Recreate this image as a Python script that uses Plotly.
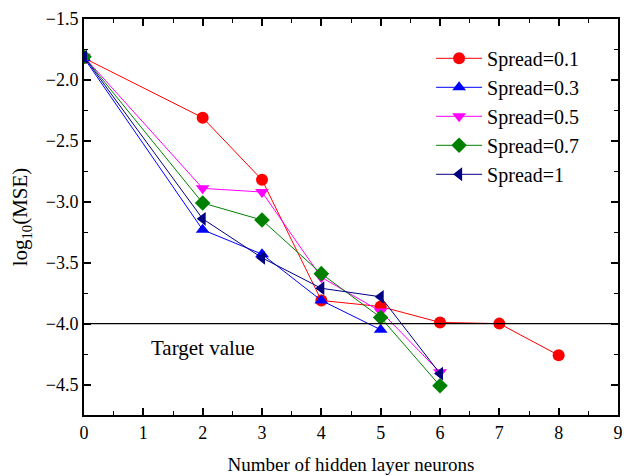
import plotly.graph_objects as go

x_all = [0, 2, 3, 4, 5, 6, 7, 8]
s01 = [-1.82, -2.31, -2.82, -3.81, -3.86, -3.99, -4.00, -4.26]
x_s03 = [0, 2, 3, 4, 5]
s03 = [-1.82, -3.23, -3.43, -3.81, -4.05]
x_s05 = [0, 2, 3, 4, 5, 6]
s05 = [-1.81, -2.89, -2.92, -3.62, -3.90, -4.40]
x_s07 = [0, 2, 3, 4, 5, 6]
s07 = [-1.81, -3.01, -3.15, -3.59, -3.95, -4.51]
x_s1 = [0, 2, 3, 4, 5, 6]
s1 = [-1.81, -3.14, -3.46, -3.71, -3.78, -4.41]
target = -4.0

series = [
    ("Spread=0.1", x_all, s01, "#ff0000", "circle"),
    ("Spread=0.3", x_s03, s03, "#0000ff", "triangle-up"),
    ("Spread=0.5", x_s05, s05, "#ff00ff", "triangle-down"),
    ("Spread=0.7", x_s07, s07, "#008000", "diamond"),
    ("Spread=1", x_s1, s1, "#000080", "triangle-left"),
]

SERIF = "Liberation Serif"

fig = go.Figure()
for name, xs, ys, col, sym in series:
    fig.add_trace(go.Scatter(
        x=xs, y=ys, name=name, mode="lines+markers",
        line=dict(color=col, width=1),
        marker=dict(color=col, symbol=sym, size=12, line=dict(width=0)),
    ))

fig.add_hline(y=target, line=dict(color="black", width=1.3))
fig.add_annotation(x=2, y=-4.2, text="Target value", showarrow=False,
                   font=dict(size=21, color="black", family=SERIF))

axis_common = dict(
    showgrid=False, zeroline=False, showline=True, linecolor="black", linewidth=2,
    mirror="ticks", ticks="inside", ticklen=7, tickwidth=1.5, tickcolor="black",
    tickfont=dict(size=18, color="black", family=SERIF),
)
fig.update_xaxes(range=[0, 9], dtick=1, tick0=0, ticklabeloverflow="allow",
                 minor=dict(dtick=0.5, ticks="inside", ticklen=4, tickcolor="black", tickwidth=1.2),
                 title=dict(text="Number of hidden layer neurons", standoff=16,
                            font=dict(size=19, color="black", family=SERIF)),
                 **axis_common)
fig.update_yaxes(range=[-4.75, -1.5], dtick=0.5, tick0=-1.5, tickformat=".1f",
                 minor=dict(dtick=0.25, ticks="inside", ticklen=4, tickcolor="black", tickwidth=1.2),
                 title=dict(text="log<sub>10</sub>(MSE)", standoff=12,
                            font=dict(size=21, color="black", family=SERIF)),
                 **axis_common)

fig.update_layout(
    width=624, height=476,
    margin=dict(l=84, r=1, t=19, b=61),
    paper_bgcolor="white", plot_bgcolor="white",
    font=dict(family=SERIF, color="black"),
    legend=dict(x=0.65, y=0.95, xanchor="left", yanchor="top",
                font=dict(size=20, color="black", family=SERIF),
                bgcolor="rgba(0,0,0,0)", tracegroupgap=0, itemwidth=46),
    showlegend=True,
)
fig.write_html("out.html")
